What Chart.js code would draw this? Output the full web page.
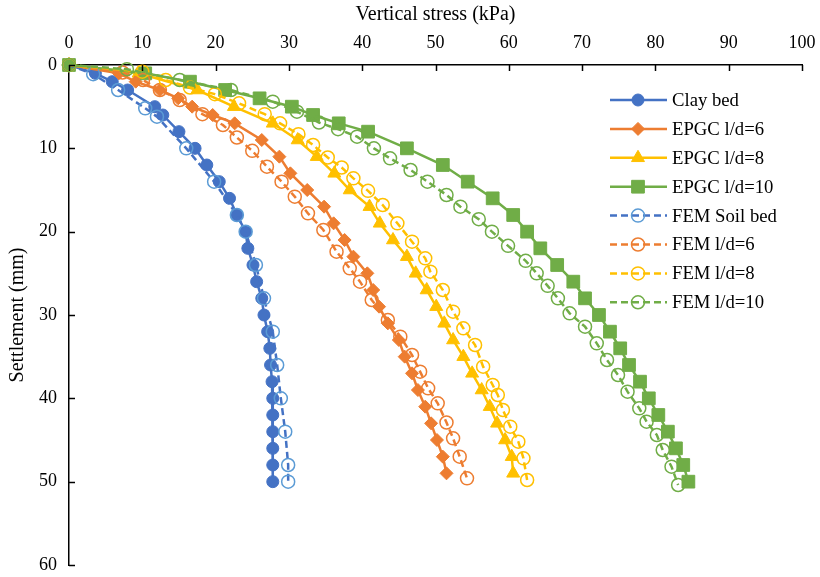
<!DOCTYPE html>
<html>
<head>
<meta charset="utf-8">
<script src="https://cdn.jsdelivr.net/npm/chart.js@4/dist/chart.umd.min.js"></script>
<style>
  html, body { margin: 0; padding: 0; background: #fff; }
  #wrap { width: 820px; height: 577px; position: relative; }
</style>
</head>
<body>
<div id="wrap"><canvas id="c" width="820" height="577"></canvas></div>
<script>
// ---- Data (settlement in mm, vertical stress in kPa) ----
const seriesNames = ["Clay bed", "EPGC l/d=6", "EPGC l/d=8", "EPGC l/d=10",
                     "FEM Soil bed", "FEM l/d=6", "FEM l/d=8", "FEM l/d=10"];

const clayStress = [0,3.6,5.9,8.0,11.7,12.8,15.0,17.2,18.8,20.5,21.9,22.9,24.1,24.4,25.1,25.6,26.3,26.6,27.1,27.4,27.5,27.7,27.8,27.8,27.8,27.8,27.8,27.8];
const claySettle = [0,1,2,3,5,6,8,10,12,14,16,18,20,22,24,26,28,30,32,34,36,38,40,42,44,46,48,50];

const epgc6Stress = [0,6.8,9.1,12.4,14.9,16.8,19.6,22.6,26.3,28.7,30.2,32.5,34.8,36.1,37.6,38.8,40.7,41.5,42.3,43.5,45.0,45.8,46.8,47.6,48.6,49.4,50.2,51.0,51.5];
const epgc6Settle = [0,1,2,3,4,5,6,7,9,11,13,15,17,19,21,23,25,27,29,31,33,35,37,39,41,43,45,47,49];

const epgc8Stress = [0,9.5,17.5,22.5,27.8,31.2,33.8,36.2,38.3,41.0,42.4,44.2,46.1,47.3,48.8,50.1,51.2,52.4,53.8,55.0,56.3,57.4,58.4,59.5,60.4,60.6];
const epgc8Settle = [0,1,3,5,7,9,11,13,15,17,19,21,23,25,27,29,31,33,35,37,39,41,43,45,47,49];

const epgc10Stress = [0,10.4,16.5,21.3,26.0,30.4,33.3,36.8,40.8,46.1,51.0,54.4,57.8,60.6,62.5,64.3,66.6,68.8,70.4,72.3,73.8,75.2,76.4,77.9,79.1,80.4,81.7,82.8,83.8,84.5];
const epgc10Settle = [0,1,2,3,4,5,6,7,8,10,12,14,16,18,20,22,24,26,28,30,32,34,36,38,40,42,44,46,48,50];

const femSoilStress = [0,3.3,6.7,10.4,12.0,16.0,19.8,22.9,24.1,25.5,26.6,27.8,28.4,28.9,29.5,29.9,29.9];
const femSoilSettle = [0,1.1,3,5.2,6.2,10,14,18,20,24,28,32,36,40,44,48,50];

const fem6Stress = [0,7.3,10.1,12.4,15.1,18.2,21.0,22.9,25.0,27.0,29.0,30.8,32.6,34.7,36.5,38.3,39.7,41.3,43.5,45.2,46.8,47.9,49.0,50.3,51.5,52.4,53.3,54.3];
const fem6Settle = [0,0.9,1.8,3,4.2,5.9,7.2,8.7,10.3,12.2,14,15.8,17.8,19.8,22.4,24.4,26,28.2,30.6,32.6,34.8,36.8,38.8,40.6,42.9,44.8,47,49.6];

const fem8Stress = [0,10.0,13.2,16.5,19.9,23.2,26.7,28.8,31.3,33.3,35.3,37.2,38.8,40.8,42.8,44.8,46.8,48.6,49.3,51.0,52.4,53.8,55.4,56.5,57.8,58.5,59.2,60.2,61.3,62.0,62.5];
const fem8Settle = [0,0.8,1.8,2.7,3.5,4.6,5.9,7,8.3,9.6,11.1,12.3,13.6,15.1,16.8,19,21.2,23.2,24.8,27,29.6,31.6,33.6,36.2,38.4,39.6,41.4,43.4,45.2,47.2,49.8];

const fem10Stress = [0,7.9,15.1,22.1,27.8,31.1,34.1,36.7,39.3,41.6,43.8,46.6,48.9,51.5,53.4,55.9,57.7,59.9,62.3,63.8,65.3,66.7,68.3,70.4,72.0,73.4,74.9,76.2,77.8,78.8,80.2,81.0,82.2,83.1];
const fem10Settle = [0,0.5,1.8,3,4.4,5.6,6.9,7.7,8.6,10,11.2,12.6,14,15.6,17,18.5,20,21.7,23.5,25,26.5,28,29.8,31.4,33.4,35.4,37.2,39.2,41.2,42.8,44.4,46.2,48.2,50.4];

const xTickValues = [0,10,20,30,40,50,60,70,80,90,100];
const yTickValues = [0,10,20,30,40,50,60];

// ---- Styles ----
const BLUE = '#4472C4', LBLUE = '#5B9BD5', ORANGE = '#ED7D31', YELLOW = '#FFC000', GREEN = '#70AD47';
const SERIF = '"Liberation Serif", "Times New Roman", serif';

function pts(xs, ys) { return xs.map((v, i) => ({ x: v, y: ys[i] })); }

function solid(label, xs, ys, color, style, r, order) {
  return { label, data: pts(xs, ys), showLine: true, borderColor: color, backgroundColor: color,
    borderWidth: 2.5, pointStyle: style, pointRadius: r, pointBackgroundColor: color,
    pointBorderColor: color, pointBorderWidth: 1, clip: false, order };
}
function dashed(label, xs, ys, lineColor, markColor, order) {
  return { label, data: pts(xs, ys), showLine: true, borderColor: lineColor, backgroundColor: 'rgba(0,0,0,0)',
    borderWidth: 2.5, borderDash: [7, 4], pointStyle: 'circle', pointRadius: 6.5,
    pointBackgroundColor: 'rgba(255,255,255,0)', pointBorderColor: markColor, pointBorderWidth: 1.5,
    clip: false, order };
}

const datasets = [
  solid(seriesNames[0], clayStress, claySettle, BLUE, 'circle', 6, 8),
  solid(seriesNames[1], epgc6Stress, epgc6Settle, ORANGE, 'rectRot', 6.5, 7),
  solid(seriesNames[2], epgc8Stress, epgc8Settle, YELLOW, 'triangle', 7.5, 6),
  solid(seriesNames[3], epgc10Stress, epgc10Settle, GREEN, 'rect', 9, 5),
  dashed(seriesNames[4], femSoilStress, femSoilSettle, BLUE, LBLUE, 4),
  dashed(seriesNames[5], fem6Stress, fem6Settle, ORANGE, ORANGE, 3),
  dashed(seriesNames[6], fem8Stress, fem8Settle, YELLOW, YELLOW, 2),
  dashed(seriesNames[7], fem10Stress, fem10Settle, GREEN, GREEN, 1),
];

// inside tick marks
const insideTicks = {
  id: 'insideTicks',
  afterDatasetsDraw(chart) {
    const ctx = chart.ctx, xs = chart.scales.x, ys = chart.scales.y, a = chart.chartArea;
    ctx.save();
    ctx.strokeStyle = '#000'; ctx.lineWidth = 1.5;
    xTickValues.forEach(v => {
      const px = Math.round(xs.getPixelForValue(v)) + 0.5;
      ctx.beginPath(); ctx.moveTo(px, a.top); ctx.lineTo(px, a.top + 6); ctx.stroke();
    });
    yTickValues.forEach(v => {
      const py = Math.round(ys.getPixelForValue(v)) + 0.5;
      ctx.beginPath(); ctx.moveTo(a.left, py); ctx.lineTo(a.left + 6, py); ctx.stroke();
    });
    ctx.restore();
  }
};

// custom legend inside chart area
function drawMarker(ctx, ds, x, y) {
  const opts = { pointStyle: ds.pointStyle, radius: ds.pointRadius, borderWidth: ds.pointBorderWidth, rotation: 0 };
  ctx.save();
  ctx.fillStyle = ds.pointBackgroundColor;
  ctx.strokeStyle = ds.pointBorderColor;
  ctx.lineWidth = ds.pointBorderWidth;
  ctx.setLineDash([]);
  Chart.helpers.drawPoint(ctx, opts, x, y);
  ctx.restore();
}
const innerLegend = {
  id: 'innerLegend',
  afterDraw(chart) {
    const ctx = chart.ctx;
    const x0 = 610, x1 = 667, xm = 638, xt = 672, y0 = 100, dy = 28.9;
    ctx.save();
    chart.data.datasets.forEach((ds, i) => {
      const y = y0 + i * dy;
      ctx.strokeStyle = ds.borderColor; ctx.lineWidth = ds.borderWidth;
      ctx.setLineDash(ds.borderDash || []);
      ctx.beginPath(); ctx.moveTo(x0, y); ctx.lineTo(x1, y); ctx.stroke();
      drawMarker(ctx, ds, xm, y);
      ctx.fillStyle = '#000'; ctx.font = '18.7px ' + SERIF;
      ctx.textAlign = 'left'; ctx.textBaseline = 'middle';
      ctx.fillText(ds.label, xt, y + 1);
    });
    ctx.restore();
  }
};

new Chart(document.getElementById('c'), {
  type: 'scatter',
  data: { datasets },
  options: {
    responsive: false,
    animation: false,
    layout: { padding: { left: 0, top: 0, right: 18, bottom: 12 } },
    plugins: { legend: { display: false }, tooltip: { enabled: false } },
    scales: {
      x: {
        type: 'linear', position: 'top', min: 0, max: 100,
        afterFit(s) { s.height = 65; s.paddingLeft = 0; s.paddingRight = 0; },
        afterBuildTicks(s) { s.ticks = xTickValues.map(v => ({ value: v })); },
        grid: { display: false, drawTicks: false, tickLength: 0 },
        border: { display: true, color: '#000', width: 1.5 },
        ticks: { color: '#000', font: { family: SERIF, size: 18 }, padding: 11, maxRotation: 0 },
        title: { display: true, text: 'Vertical stress (kPa)', color: '#000', font: { family: SERIF, size: 20 }, padding: { top: 3, bottom: 0 } }
      },
      y: {
        type: 'linear', reverse: true, min: 0, max: 60,
        afterFit(s) { s.width = 69; s.paddingTop = 0; s.paddingBottom = 0; },
        afterBuildTicks(s) { s.ticks = yTickValues.map(v => ({ value: v })); },
        grid: { display: false, drawTicks: false, tickLength: 0 },
        border: { display: true, color: '#000', width: 1.5 },
        ticks: { color: '#000', font: { family: SERIF, size: 18 }, padding: 12 },
        title: { display: true, text: 'Settlement (mm)', color: '#000', font: { family: SERIF, size: 20 }, padding: { top: 6, bottom: 0 } }
      }
    }
  },
  plugins: [insideTicks, innerLegend]
});
</script>
</body>
</html>
